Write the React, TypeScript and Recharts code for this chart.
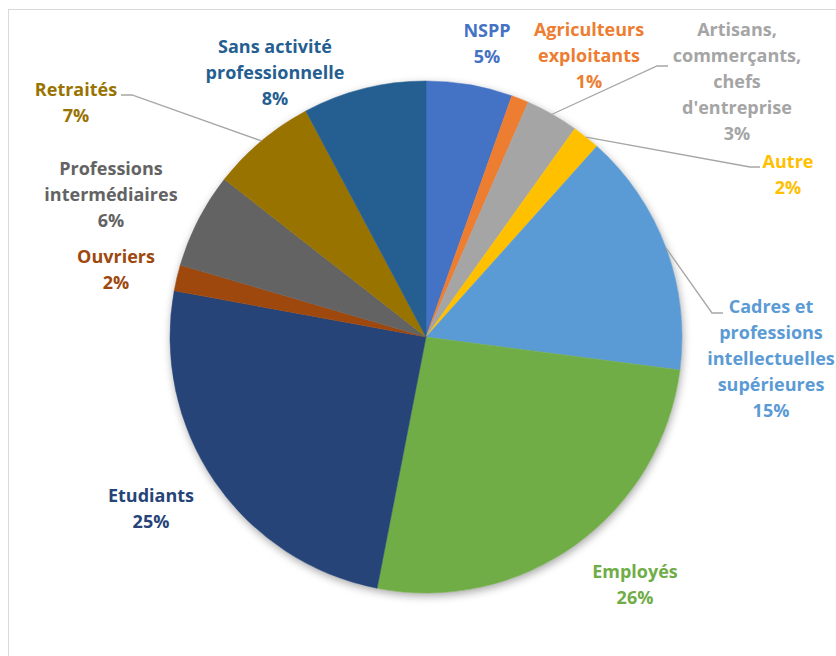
import React from 'react'
import { PieChart, Pie, Cell } from 'recharts'

// categories, clockwise from 12 o'clock
const categories = [
  'NSPP',
  'Agriculteurs\nexploitants',
  'Artisans,\ncommerçants,\nchefs\nd\'entreprise',
  'Autre',
  'Cadres et\nprofessions\nintellectuelles\nsupérieures',
  'Employés',
  'Etudiants',
  'Ouvriers',
  'Professions\nintermédiaires',
  'Retraités',
  'Sans activité\nprofessionnelle',
]
const shares = [5.44, 1.09, 3.34, 1.76, 15.43, 26.0, 24.83, 1.64, 6.03, 6.66, 7.78]
const colors = [
  '#4472C4', '#ED7D31', '#A5A5A5', '#FFC000', '#5B9BD5', '#70AD47',
  '#264478', '#9E480E', '#636363', '#997300', '#255E91',
]

const data = categories.map((name, i) => ({ name, value: shares[i] }))

// label placement: text centre x, first baseline y, optional leader elbow
type LabelPos = { x: number; y: number; elbow?: [number, number, number] }
const LABEL_POS: LabelPos[] = [
  { x: 487, y: 37 },
  { x: 589, y: 36 },
  { x: 737, y: 36, elbow: [668, 657, 66] },
  { x: 788, y: 168, elbow: [760, 750, 167] },
  { x: 771, y: 313, elbow: [723, 712, 313] },
  { x: 635, y: 578 },
  { x: 151, y: 502 },
  { x: 116, y: 263 },
  { x: 111, y: 175 },
  { x: 76, y: 96, elbow: [121, 132, 95] },
  { x: 275, y: 53 },
]

const LINE_H = 26
const RAD = Math.PI / 180

function renderLabel(props: any) {
  const { cx, cy, midAngle, outerRadius, index, percent, name } = props
  const pos = LABEL_POS[index]
  const lines: string[] = String(name).split('\n')
  lines.push(`${Math.round(percent * 100)}%`)
  let leader = null
  if (pos.elbow) {
    const sx = cx + outerRadius * Math.cos(-midAngle * RAD)
    const sy = cy + outerRadius * Math.sin(-midAngle * RAD)
    const [ex, bx, ly] = pos.elbow
    leader = (
      <polyline
        points={`${ex},${ly} ${bx},${ly} ${sx},${sy}`}
        fill="none"
        stroke="#A6A6A6"
        strokeWidth={1.3}
      />
    )
  }
  return (
    <g key={`lbl-${index}`}>
      {leader}
      <text
        x={pos.x}
        y={pos.y}
        textAnchor="middle"
        fill={colors[index]}
        fontFamily="'Open Sans', sans-serif"
        fontWeight={700}
        fontSize={18}
      >
        {lines.map((l, k) => (
          <tspan key={k} x={pos.x} y={pos.y + k * LINE_H}>
            {l}
          </tspan>
        ))}
      </text>
    </g>
  )
}

export default function App() {
  return (
    <div style={{ position: 'absolute', left: 0, top: 0, width: 836, height: 656, overflow: 'hidden', background: '#fff' }}>
      <div
        style={{
          position: 'absolute',
          left: 8,
          top: 9,
          width: 900,
          height: 700,
          borderLeft: '1.5px solid #D9D9D9',
          borderTop: '1.5px solid #D9D9D9',
        }}
      />
      <div style={{ position: 'absolute', left: 0, top: 0 }}>
        <PieChart width={836} height={656} margin={{ top: 0, right: 0, bottom: 0, left: 0 }}>
          <Pie
            data={[{ v: 1 }]}
            dataKey="v"
            cx={426}
            cy={337}
            outerRadius={256}
            startAngle={90}
            endAngle={-270}
            isAnimationActive={false}
            stroke="none"
          >
            <Cell fill="#ffffff" style={{ filter: 'drop-shadow(1px 3px 4px rgba(0,0,0,0.35))' }} />
          </Pie>
          <Pie
            data={data}
            dataKey="value"
            nameKey="name"
            cx={426}
            cy={337}
            outerRadius={256}
            startAngle={90}
            endAngle={-270}
            isAnimationActive={false}
            label={renderLabel}
            labelLine={false}
          >
            {data.map((_, i) => (
              <Cell key={i} fill={colors[i]} stroke={colors[i]} strokeWidth={0.5} />
            ))}
          </Pie>
        </PieChart>
      </div>
    </div>
  )
}
